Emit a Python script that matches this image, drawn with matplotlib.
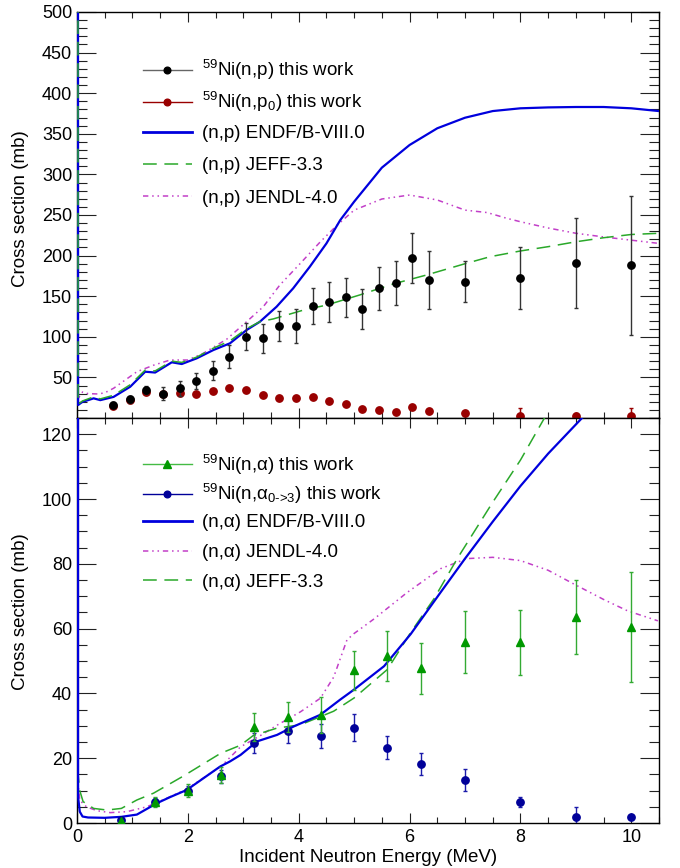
import matplotlib
matplotlib.use('Agg')
import matplotlib.pyplot as plt
from matplotlib.ticker import MultipleLocator
from matplotlib.lines import Line2D
from matplotlib.legend import Legend

plt.rcParams['font.family'] = ['Liberation Sans', 'DejaVu Sans']
plt.rcParams['mathtext.fontset'] = 'custom'
plt.rcParams['mathtext.rm'] = 'Liberation Sans'
plt.rcParams['mathtext.it'] = 'Liberation Sans:italic'
plt.rcParams['mathtext.default'] = 'regular'

# ---------------- data: top panel (n,p) ----------------
E_np = [0.65, 0.95, 1.25, 1.55, 1.85, 2.15, 2.45, 2.75, 3.05, 3.35, 3.65, 3.95,
        4.25, 4.55, 4.85, 5.15, 5.45, 5.75, 6.05, 6.35, 7.0, 8.0, 9.0, 10.0]
np_xs = [16.4, 23, 34.5, 30, 36.6, 45.6, 58.3, 75.5, 100, 98, 113.3, 113.3,
         138, 143, 148.6, 134, 160, 166, 197, 170, 168, 172, 191, 188]
np_err = [3, 4, 5, 7.7, 9, 10, 11.5, 14, 16.5, 17.5, 18.5, 21,
          22.5, 25, 24, 25, 26.5, 27, 30.5, 35.5, 25.5, 38, 55, 86]
np0_xs = [15, 22, 31.6, 30, 30.4, 30, 33.2, 37.3, 34.5, 28, 24.3, 24.6,
          25.5, 21.3, 16.9, 11.5, 9.5, 7.4, 13.2, 8.3, 5.8, 2.5, 3, 2.5]
np0_err = [2, 2, 2, 2, 2, 2, 2, 2, 2, 2, 2, 2,
           2, 2, 2, 2, 2, 2, 2, 2, 3, 10, 3, 10]

E_endf_np = [0, 0.02, 0.1, 0.2, 0.3, 0.42, 0.66, 0.96, 1.23, 1.41, 1.71, 1.89, 2.16,
             2.46, 2.76, 3.06, 3.3, 3.6, 3.9, 4.2, 4.5, 4.75, 5.0, 5.5, 6.0, 6.5,
             7.0, 7.5, 8.0, 8.5, 9.0, 9.5, 10.0, 10.5]
endf_np = [5000, 16, 20, 22, 24.2, 22, 26, 38.5, 57, 56, 68.6, 66.5, 73.5,
           83.7, 92, 108.4, 118.6, 137, 159.7, 186.3, 215, 243.8, 266.4, 308.3, 336.2, 356.8,
           369.8, 378, 381.4, 382.5, 383, 383, 381.4, 378]

E_jeff_np = [0, 0.02, 0.1, 0.2, 0.3, 0.42, 0.66, 0.96, 1.23, 1.41, 1.71, 1.89, 2.16,
             2.46, 2.76, 3.06, 3.3, 3.54, 4.09, 4.5, 5.1, 5.7, 6.3, 7.0, 7.45, 8.0,
             8.5, 9.0, 9.5, 10.0, 10.5]
jeff_np = [5000, 17, 21, 23.5, 26, 23.5, 28, 41, 59, 58, 70, 68.5, 75,
           86, 95, 110, 118.6, 122, 133, 139, 151.5, 165, 176, 190, 198.6, 205.7,
           211, 217, 222, 226, 227.5]

E_jendl_np = [0, 0.02, 0.1, 0.2, 0.38, 0.5, 0.66, 1.08, 1.38, 1.68, 2.0, 2.28, 2.7,
              3.06, 3.36, 3.66, 4.03, 4.39, 4.7, 5.0, 5.5, 6.0, 6.5, 7.0, 7.4, 7.75,
              8.0, 8.5, 9.0, 9.5, 10.0, 10.5]
jendl_np = [5000, 24, 32, 30, 29.6, 31, 36.6, 57, 65, 71.4, 71.4, 79.7, 97,
            118.6, 137, 163.8, 190.5, 217, 238, 256, 269.7, 274.6, 268.5, 256, 253, 246,
            241.7, 234, 227.5, 223, 219, 215]

# ---------------- data: bottom panel (n,alpha) ----------------
E_a = [0.8, 1.4, 2.0, 2.6, 3.2, 3.8, 4.4, 5.0, 5.6, 6.2, 7.0, 8.0, 9.0, 10.0]
na_xs = [0.5, 6.5, 10, 14.8, 29.6, 32.7, 33.4, 47.1, 51.6, 47.7, 55.8, 55.8, 63.6, 60.6]
na_err = [0.5, 1.5, 2, 2.5, 4.4, 4.7, 5.6, 6, 7.7, 8, 9.5, 10, 11.5, 17]
na03_xs = [0.8, 6.5, 10, 14.5, 24.7, 28.3, 26.9, 29.4, 23.3, 18.1, 13.2, 6.4, 2.0, 2.0]
na03_err = [0.5, 1.2, 1.5, 2, 3, 3.5, 3.8, 4.2, 3.7, 3.4, 3.4, 1.6, 3, 0.3]

E_endf_na = [0, 0.02, 0.05, 0.1, 0.2, 0.5, 0.8, 1.08, 1.44, 1.68, 1.98, 2.28, 2.58,
             2.76, 2.95, 3.25, 3.61, 3.91, 4.39, 4.75, 5.0, 5.54, 6.02, 6.56, 7.0,
             7.5, 8.0, 8.5, 9.0, 9.5]
endf_na = [5000, 8, 3.5, 2.0, 1.7, 1.6, 1.9, 2.6, 6.1, 8, 10.2, 13.8, 17.4,
           19, 21, 25.2, 27.2, 29.8, 33.4, 38.1, 41.2, 48.4, 58.3, 71.2, 81.6,
           93, 104, 114, 123, 132]

E_jeff_na = [0, 0.02, 0.05, 0.11, 0.3, 0.54, 0.8, 1.08, 1.38, 1.92, 2.59, 2.95, 3.18,
             3.61, 4.03, 4.63, 5.0, 5.6, 6.02, 6.44, 6.86, 7.5, 8.0, 8.5, 9.0]
jeff_na = [5000, 15, 10, 6.6, 4.5, 4, 4.5, 7.1, 9.2, 14.5, 21.5, 24, 27,
           29.3, 30.3, 34.5, 38.6, 47.4, 58.8, 69.2, 81.6, 99, 112, 127, 140]

E_jendl_na = [0, 0.02, 0.05, 0.17, 0.36, 0.6, 0.9, 1.26, 1.68, 1.98, 2.6, 2.95, 3.31,
              3.61, 4.03, 4.39, 4.63, 4.87, 5.0, 5.36, 5.96, 6.56, 7.03, 7.5, 8.0,
              8.5, 8.96, 9.5, 9.93, 10.48]
jendl_na = [5000, 12, 7, 5, 3.8, 3.2, 3.5, 5, 8.1, 10.5, 17.5, 23.5, 27,
            30.2, 34.3, 38.5, 45, 56.5, 58.5, 63, 71.2, 78.5, 81.6, 82, 81,
            78, 73.8, 69, 65.5, 62.4]

top_labels = [r'$^{59}$Ni(n,p) this work', r'$^{59}$Ni(n,p$_{0}$) this work',
              '(n,p) ENDF/B-VIII.0', '(n,p) JEFF-3.3', '(n,p) JENDL-4.0']
bot_labels = [r'$^{59}$Ni(n,α) this work', r'$^{59}$Ni(n,α$_{\text{0->3}}$) this work',
              '(n,α) ENDF/B-VIII.0', '(n,α) JENDL-4.0', '(n,α) JEFF-3.3']

# ---------------- styles ----------------
C_BLUE = '#0000dd'
C_JEFF = '#2aa82a'
C_JENDL = '#c23fc8'
C_RED = '#990000'
C_TRI = '#009900'
C_NAVY = '#000099'
JENDL_LS = (0, (3.5, 2.5, 1, 2.5, 1, 2.5))
JEFF_LS = (0, (9, 5))
MS = 5.3
FS_TICK = 13
FS_TITLE = 13.5
FS_LEG = 13.5

fig = plt.figure(figsize=(6.8, 8.68), dpi=100)
ax1 = fig.add_axes([0.11324, 0.51843, 0.85588, 0.46775])
ax2 = fig.add_axes([0.11324, 0.05184, 0.85588, 0.46659])

# top panel
ax1.plot(E_jendl_np, jendl_np, color=C_JENDL, lw=1.1, ls=JENDL_LS, zorder=2)
ax1.plot(E_endf_np, endf_np, color=C_BLUE, lw=1.6, zorder=3)
ax1.plot(E_jeff_np, jeff_np, color=C_JEFF, lw=1.1, ls=JEFF_LS, zorder=4)
ax1.errorbar(E_np, np0_xs, yerr=np0_err, fmt='o', color=C_RED, ms=MS,
             ecolor=C_RED, elinewidth=1, capsize=1.5, capthick=1, zorder=5)
ax1.errorbar(E_np, np_xs, yerr=np_err, fmt='o', color='black', ms=MS,
             ecolor='#333333', elinewidth=1, capsize=1.5, capthick=1, zorder=6)

h_top = [Line2D([], [], color='#666666', lw=1, marker='o', ms=4.8, mfc='black', mec='black'),
         Line2D([], [], color=C_RED, lw=1, marker='o', ms=4.8),
         Line2D([], [], color=C_BLUE, lw=2),
         Line2D([], [], color=C_JEFF, lw=1.1, ls=JEFF_LS),
         Line2D([], [], color=C_JENDL, lw=1.1, ls=JENDL_LS)]
top_rows = [0.857, 0.778, 0.700, 0.621, 0.542]

# bottom panel
ax2.plot(E_jendl_na, jendl_na, color=C_JENDL, lw=1.1, ls=JENDL_LS, zorder=2)
ax2.plot(E_jeff_na, jeff_na, color=C_JEFF, lw=1.1, ls=JEFF_LS, zorder=3)
ax2.plot(E_endf_na, endf_na, color=C_BLUE, lw=1.6, zorder=4)
ax2.errorbar(E_a, na03_xs, yerr=na03_err, fmt='o', color=C_NAVY, ms=MS,
             ecolor='#1a1aaa', elinewidth=1, capsize=1.5, capthick=1, zorder=5)
ax2.errorbar(E_a, na_xs, yerr=na_err, fmt='^', color=C_TRI, ms=MS + 0.5,
             ecolor='#33aa33', elinewidth=1, capsize=1.5, capthick=1, zorder=6)

h_bot = [Line2D([], [], color='#44bb44', lw=1, marker='^', ms=5.2, mfc=C_TRI, mec=C_TRI),
         Line2D([], [], color=C_NAVY, lw=1, marker='o', ms=4.8),
         Line2D([], [], color=C_BLUE, lw=2),
         Line2D([], [], color=C_JENDL, lw=1.1, ls=JENDL_LS),
         Line2D([], [], color=C_JEFF, lw=1.1, ls=JEFF_LS)]
bot_rows = [0.884, 0.812, 0.741, 0.667, 0.595]


def add_rows(ax, handles, labels, rows):
    for h, lab, yc in zip(handles, labels, rows):
        leg = Legend(ax, [h], [lab], loc='center left', bbox_to_anchor=(0.1134, yc),
                     frameon=False, fontsize=FS_LEG, handlelength=2.6,
                     handletextpad=0.55, borderpad=0, borderaxespad=0)
        ax.add_artist(leg)


add_rows(ax1, h_top, top_labels, top_rows)
add_rows(ax2, h_bot, bot_labels, bot_rows)

# axes formatting
for ax in (ax1, ax2):
    ax.set_xlim(0, 10.5)
    ax.xaxis.set_major_locator(MultipleLocator(2))
    ax.xaxis.set_minor_locator(MultipleLocator(0.5))
    ax.tick_params(which='both', direction='in', top=True, right=True,
                   labelsize=FS_TICK, width=0.8, color='#222222')
    ax.tick_params(axis='y', which='major', length=14, pad=3.5)
    ax.tick_params(axis='y', which='minor', length=7)
    ax.tick_params(axis='x', which='major', length=7.5, pad=4.5)
    ax.tick_params(axis='x', which='minor', length=4)
    for s in ax.spines.values():
        s.set_linewidth(1.0)
    ax.set_ylabel('Cross section (mb)', fontsize=FS_TITLE)

ax1.set_ylim(0, 500)
ax1.yaxis.set_major_locator(MultipleLocator(50))
ax1.yaxis.set_minor_locator(MultipleLocator(10))
ax1.set_yticks(list(range(50, 501, 50)))
ax1.tick_params(axis='x', labelbottom=False)
ax1.yaxis.set_label_coords(-0.0825, 0.515)

ax2.set_ylim(0, 125)
ax2.yaxis.set_major_locator(MultipleLocator(20))
ax2.yaxis.set_minor_locator(MultipleLocator(5))
ax2.yaxis.set_label_coords(-0.0825, 0.523)
ax2.set_xlabel('Incident Neutron Energy (MeV)', fontsize=FS_TITLE)
ax2.xaxis.set_label_coords(0.5, -0.063)

fig.savefig('out.png', dpi=100)
